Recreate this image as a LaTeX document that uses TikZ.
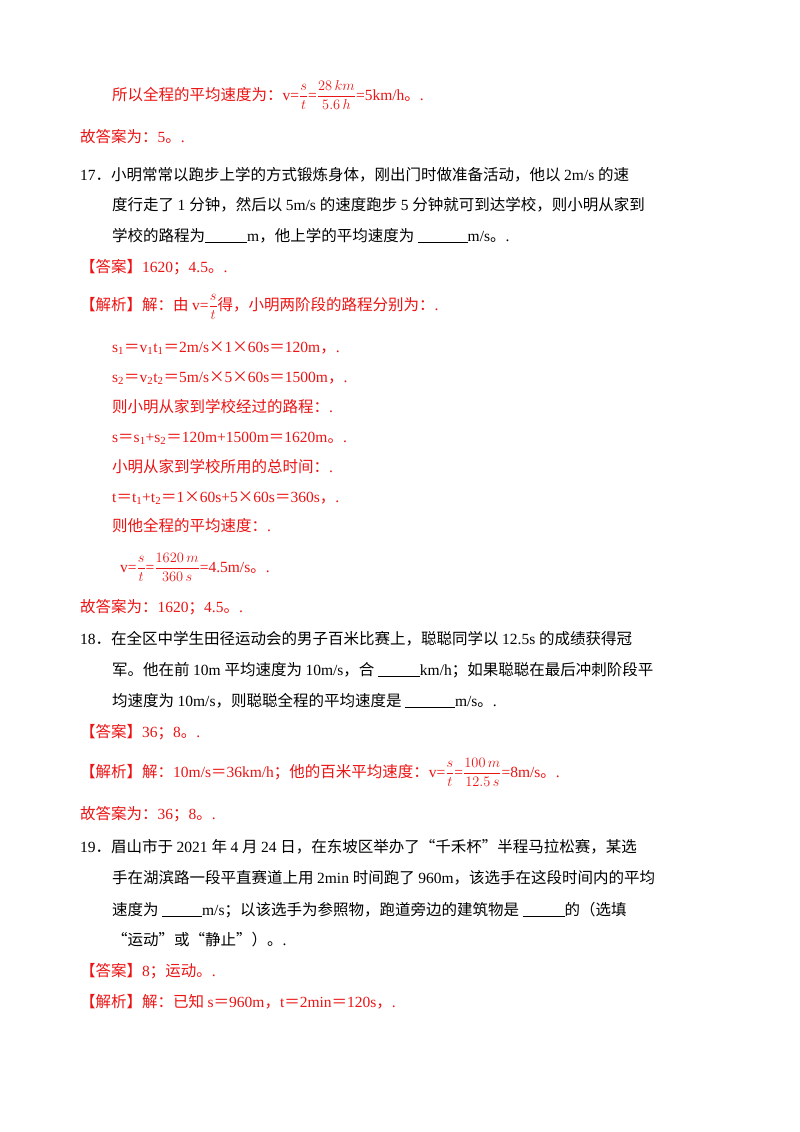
\documentclass[tikz,border=0pt]{standalone}
\usepackage{fontspec}
\setmainfont{Liberation Serif}
\newfontfamily\cjk{Noto Sans CJK SC}
\newfontfamily\latf{Liberation Serif}
\XeTeXinterchartokenstate=1
\newcount\cc
\cc="3000 \loop \XeTeXcharclass\cc=1 \advance\cc 1 \ifnum\cc<"A000 \repeat
\cc="FF00 \loop \XeTeXcharclass\cc=1 \advance\cc 1 \ifnum\cc<"FFF0 \repeat
\XeTeXcharclass"201C=1 \XeTeXcharclass"201D=1 \XeTeXcharclass"00D7=1
\XeTeXinterchartoks 0 1 = {\cjk}
\XeTeXinterchartoks 4095 1 = {\cjk}
\XeTeXinterchartoks 1 0 = {\latf}
\XeTeXinterchartoks 4095 0 = {\latf}
\definecolor{rd}{RGB}{235,20,20}
\newcommand{\blank}[1]{\underline{\hspace{#1}}}
\newcommand{\fr}[2]{$\displaystyle\frac{#1}{#2}$}
\tikzset{ln/.style={anchor=base west,inner sep=0pt,font=\fontsize{15.5}{18}\selectfont},
 r/.style={ln,text=rd}, b/.style={ln,text=black}}
\begin{document}
\begin{tikzpicture}[x=1pt,y=-1pt]
\useasboundingbox[fill=white] (0,0) rectangle (800,1132);
\node[r] (l1) at (112,100) {所以全程的平均速度为：v=\fr{s}{t}=\fr{28\,km}{5.6\,h}=5km/h。.};
\node[r] (l2) at (80,142) {故答案为：5。.};
\node[b] (l3) at (80,180) {17．小明常常以跑步上学的方式锻炼身体，刚出门时做准备活动，他以 2m/s 的速};
\node[b] (l4) at (112,210) {度行走了 1 分钟，然后以 5m/s 的速度跑步 5 分钟就可到达学校，则小明从家到};
\node[b] (l5) at (112,241) {学校的路程为\blank{42pt}m，他上学的平均速度为 \blank{50pt}m/s。.};
\node[r] (l6) at (80,272) {【答案】1620；4.5。.};
\node[r] (l7) at (80,310) {【解析】解：由 v=\fr{s}{t}得，小明两阶段的路程分别为：.};
\node[r] (l8) at (112,352) {s\textsubscript{1}＝v\textsubscript{1}t\textsubscript{1}＝2m/s×1×60s＝120m，.};
\node[r] (l9) at (112,382) {s\textsubscript{2}＝v\textsubscript{2}t\textsubscript{2}＝5m/s×5×60s＝1500m，.};
\node[r] (l10) at (112,412) {则小明从家到学校经过的路程：.};
\node[r] (l11) at (112,442) {s＝s\textsubscript{1}+s\textsubscript{2}＝120m+1500m＝1620m。.};
\node[r] (l12) at (112,472) {小明从家到学校所用的总时间：.};
\node[r] (l13) at (112,502) {t＝t\textsubscript{1}+t\textsubscript{2}＝1×60s+5×60s＝360s，.};
\node[r] (l14) at (112,531) {则他全程的平均速度：.};
\node[r] (l15) at (120,572) {v=\fr{s}{t}=\fr{1620\,m}{360\,s}=4.5m/s。.};
\node[r] (l16) at (80,612) {故答案为：1620；4.5。.};
\node[b] (l17) at (80,644) {18．在全区中学生田径运动会的男子百米比赛上，聪聪同学以 12.5s 的成绩获得冠};
\node[b] (l18) at (112,675) {军。他在前 10m 平均速度为 10m/s，合 \blank{42pt}km/h；如果聪聪在最后冲刺阶段平};
\node[b] (l19) at (112,706) {均速度为 10m/s，则聪聪全程的平均速度是 \blank{50pt}m/s。.};
\node[r] (l20) at (80,737) {【答案】36；8。.};
\node[r] (l21) at (80,777) {【解析】解：10m/s＝36km/h；他的百米平均速度：v=\fr{s}{t}=\fr{100\,m}{12.5\,s}=8m/s。.};
\node[r] (l22) at (80,819) {故答案为：36；8。.};
\node[b] (l23) at (80,852) {19．眉山市于 2021 年 4 月 24 日，在东坡区举办了“千禾杯”半程马拉松赛，某选};
\node[b] (l24) at (112,883) {手在湖滨路一段平直赛道上用 2min 时间跑了 960m，该选手在这段时间内的平均};
\node[b] (l25) at (112,915) {速度为 \blank{40pt}m/s；以该选手为参照物，跑道旁边的建筑物是 \blank{42pt}的（选填};
\node[b] (l26) at (112,945) {“运动”或“静止”）。.};
\node[r] (l27) at (80,976) {【答案】8；运动。.};
\node[r] (l28) at (80,1007) {【解析】解：已知 s＝960m，t＝2min＝120s，.};
\end{tikzpicture}
\end{document}
